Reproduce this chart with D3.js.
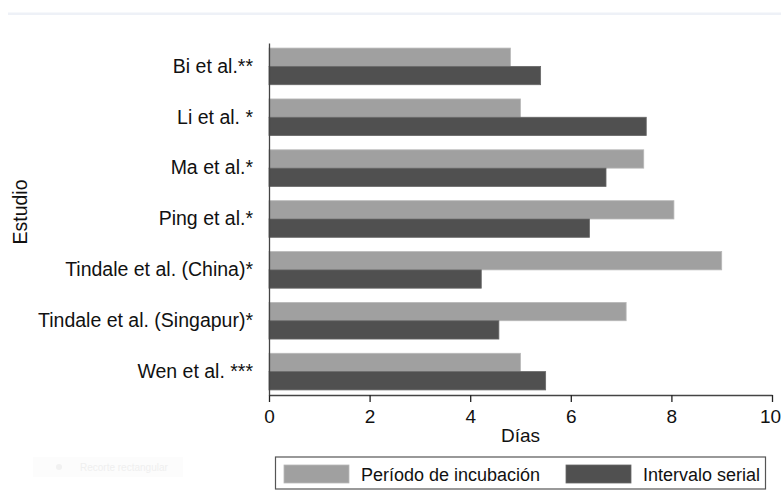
<!DOCTYPE html>
<html>
<head>
<meta charset="utf-8">
<script src="https://cdn.jsdelivr.net/npm/d3@7"></script>
<style>
  body { margin: 0; background: #fff; }
  svg { display: block; font-family: "Liberation Sans", Arial, sans-serif; }
</style>
</head>
<body>
<div id="chart"></div>
<script>
const estudios = ["Bi et al.**", "Li et al. *", "Ma et al.*", "Ping et al.*",
                  "Tindale et al. (China)*", "Tindale et al. (Singapur)*", "Wen et al. ***"];
const incubacion = [4.8, 5.0, 7.45, 8.05, 9.0, 7.1, 5.0];
const serial = [5.4, 7.5, 6.7, 6.37, 4.22, 4.57, 5.5];
const xTicks = [0, 2, 4, 6, 8, 10];
const series = ["Período de incubación", "Intervalo serial"];

const W = 781, H = 490;
const plot = { left: 269, right: 772, top: 43, bottom: 395 };
const font = "'Liberation Sans', Arial, sans-serif";

const svg = d3.select("#chart").append("svg")
    .attr("width", W)
    .attr("height", H);

// faint band at top of the screenshot
svg.append("rect")
    .attr("x", 8).attr("y", 12.5)
    .attr("width", W - 8).attr("height", 2.5)
    .attr("fill", "#eef1f7");

const x = d3.scaleLinear().domain([0, 10]).range([plot.left, plot.right]);
const y = d3.scaleBand().domain(estudios).range([plot.top, plot.bottom])
    .paddingInner(0.28).paddingOuter(0.1);
const sub = d3.scaleBand().domain(series).range([0, y.bandwidth()]);
const color = d3.scaleOrdinal().domain(series).range(["#a0a0a0", "#505050"]);

const data = estudios.map((e, i) => ({ estudio: e, values: [incubacion[i], serial[i]] }));

const group = svg.selectAll(".estudio")
    .data(data)
    .enter().append("g")
    .attr("class", "estudio")
    .attr("transform", d => `translate(0,${y(d.estudio)})`);

group.selectAll("rect")
    .data(d => d.values.map((v, j) => ({ serie: series[j], value: v })))
    .enter().append("rect")
    .attr("x", x(0))
    .attr("y", d => sub(d.serie))
    .attr("width", d => x(d.value) - x(0))
    .attr("height", sub.bandwidth())
    .attr("fill", d => color(d.serie))
    .attr("stroke", d => d.serie === series[0] ? "#b8b8b8" : "#686868")
    .attr("stroke-width", 0.8);

// x axis
const xAxis = svg.append("g")
    .attr("transform", `translate(0,${plot.bottom})`)
    .call(d3.axisBottom(x).tickValues(xTicks).tickSize(7).tickPadding(8).tickSizeOuter(0));
xAxis.select(".domain").attr("stroke", "#444").attr("stroke-width", 1.3);
xAxis.selectAll(".tick line").attr("stroke", "#222").attr("stroke-width", 1.3);
xAxis.selectAll(".tick text").attr("font-size", 19).attr("fill", "#111")
    .attr("font-family", font)
    .attr("dx", d => d === 10 ? -2 : 0);

// y axis
const yAxis = svg.append("g")
    .attr("transform", `translate(${plot.left},0)`)
    .call(d3.axisLeft(y).tickSize(0).tickPadding(16).tickSizeOuter(0));
yAxis.select(".domain").attr("stroke", "#444").attr("stroke-width", 1.3);
yAxis.selectAll(".tick text").attr("font-size", 19.5).attr("fill", "#111")
    .attr("font-family", font);

svg.append("text")
    .attr("x", (plot.left + plot.right) / 2)
    .attr("y", 442)
    .attr("text-anchor", "middle")
    .attr("font-size", 19)
    .attr("fill", "#111")
    .text("Días");

svg.append("text")
    .attr("transform", "translate(27,212) rotate(-90)")
    .attr("text-anchor", "middle")
    .attr("font-size", 19.5)
    .attr("fill", "#111")
    .text("Estudio");

// legend
const legend = svg.append("g");
legend.append("rect")
    .attr("x", 275.5).attr("y", 457)
    .attr("width", 490).attr("height", 32)
    .attr("fill", "#fff")
    .attr("stroke", "#555")
    .attr("stroke-width", 1.2);

const legendX = [284, 566];
series.forEach((s, i) => {
    legend.append("rect")
        .attr("x", legendX[i]).attr("y", 465)
        .attr("width", 65).attr("height", 18)
        .attr("fill", color(s))
        .attr("stroke", i === 0 ? "#b8b8b8" : "#686868")
        .attr("stroke-width", 0.8);
    legend.append("text")
        .attr("x", legendX[i] + 77).attr("y", 481)
        .attr("font-size", 18)
        .attr("fill", "#111")
        .text(s);
});

// faint overlay from the screenshot
const overlay = svg.append("g").attr("opacity", 0.5);
overlay.append("rect")
    .attr("x", 33).attr("y", 457)
    .attr("width", 150).attr("height", 20)
    .attr("fill", "#fafafa");
overlay.append("circle")
    .attr("cx", 59).attr("cy", 467).attr("r", 3)
    .attr("fill", "#e4e4e4");
overlay.append("text")
    .attr("x", 80).attr("y", 471)
    .attr("font-size", 10)
    .attr("fill", "#e0e0e0")
    .text("Recorte rectangular");
</script>
</body>
</html>
